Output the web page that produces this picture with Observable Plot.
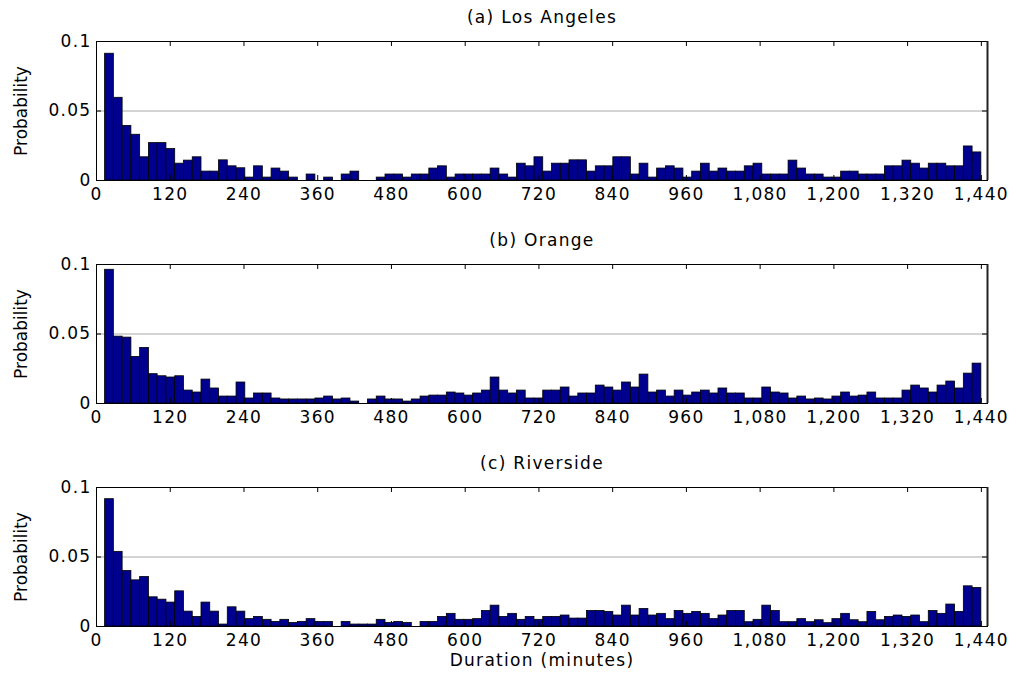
<!DOCTYPE html>
<html>
<head>
<meta charset="utf-8">
<script src="https://cdn.jsdelivr.net/npm/d3@7"></script>
<script src="https://cdn.jsdelivr.net/npm/@observablehq/plot@0.6"></script>
<style>
  body { margin: 0; background: #fff; }
  #chart svg { display: block; }
</style>
</head>
<body>
<div id="chart"></div>
<script>
// Parking-duration histograms for three counties (100 bins, 14–1440 minutes)
const titles = ["(a) Los Angeles", "(b) Orange", "(c) Riverside"];

const losAngeles = [
  0.0912, 0.0595, 0.0393, 0.0329, 0.0167, 0.0269, 0.0269, 0.0226, 0.0121, 0.0143,
  0.0167, 0.0064, 0.0064, 0.0145, 0.0102, 0.0088, 0.0021, 0.0102, 0.0021, 0.0086,
  0.0064, 0.0021, 0, 0.0043, 0, 0.0021, 0, 0.0043, 0.0064, 0,
  0, 0.0021, 0.0043, 0.0043, 0.0021, 0.0043, 0.0043, 0.0086, 0.0102, 0.0021,
  0.0043, 0.0043, 0.0043, 0.0043, 0.0086, 0.0043, 0.0021, 0.0121, 0.0102, 0.0167,
  0.0064, 0.0121, 0.0121, 0.0145, 0.0145, 0.0064, 0.0102, 0.0102, 0.0167, 0.0167,
  0.0043, 0.0121, 0.0021, 0.0086, 0.0102, 0.0086, 0.0021, 0.0064, 0.0121, 0.0064,
  0.0086, 0.0064, 0.0064, 0.0102, 0.0121, 0.0043, 0.0043, 0.0043, 0.0143, 0.0086,
  0.0043, 0.0043, 0.0021, 0.0021, 0.0064, 0.0064, 0.0043, 0.0043, 0.0043, 0.0102,
  0.0102, 0.0143, 0.0121, 0.0086, 0.0121, 0.0121, 0.0102, 0.0102, 0.0245, 0.0202
];

const orange = [
  0.0962, 0.0481, 0.0474, 0.0335, 0.0400, 0.0211, 0.0196, 0.0187, 0.0196, 0.0093,
  0.0079, 0.0172, 0.0108, 0.0050, 0.0050, 0.0151, 0.0036, 0.0072, 0.0072, 0.0036,
  0.0029, 0.0029, 0.0029, 0.0029, 0.0036, 0.0050, 0.0029, 0.0036, 0.0014, 0,
  0.0029, 0.0050, 0.0029, 0.0029, 0.0014, 0.0029, 0.0050, 0.0057, 0.0057, 0.0079,
  0.0072, 0.0057, 0.0072, 0.0093, 0.0187, 0.0093, 0.0072, 0.0093, 0.0036, 0.0036,
  0.0093, 0.0093, 0.0115, 0.0050, 0.0072, 0.0072, 0.0129, 0.0115, 0.0093, 0.0151,
  0.0115, 0.0208, 0.0079, 0.0093, 0.0050, 0.0093, 0.0057, 0.0079, 0.0093, 0.0072,
  0.0108, 0.0072, 0.0072, 0.0036, 0.0036, 0.0115, 0.0079, 0.0072, 0.0036, 0.0050,
  0.0029, 0.0036, 0.0029, 0.0050, 0.0079, 0.0050, 0.0057, 0.0079, 0.0036, 0.0036,
  0.0036, 0.0093, 0.0129, 0.0108, 0.0079, 0.0129, 0.0158, 0.0108, 0.0215, 0.0287
];

const riverside = [
  0.0916, 0.0537, 0.0399, 0.0332, 0.0356, 0.0210, 0.0193, 0.0172, 0.0253, 0.0107,
  0.0069, 0.0172, 0.0107, 0.0014, 0.0138, 0.0107, 0.0053, 0.0069, 0.0048, 0.0033,
  0.0048, 0.0026, 0.0033, 0.0053, 0.0033, 0.0033, 0, 0.0033, 0.0014, 0.0014,
  0.0014, 0.0048, 0.0026, 0.0033, 0.0026, 0, 0.0033, 0.0033, 0.0069, 0.0091,
  0.0048, 0.0048, 0.0053, 0.0112, 0.0150, 0.0069, 0.0091, 0.0048, 0.0069, 0.0048,
  0.0069, 0.0069, 0.0079, 0.0057, 0.0057, 0.0112, 0.0112, 0.0105, 0.0079, 0.0150,
  0.0079, 0.0126, 0.0079, 0.0091, 0.0053, 0.0112, 0.0091, 0.0105, 0.0091, 0.0053,
  0.0079, 0.0112, 0.0112, 0.0031, 0.0048, 0.0150, 0.0112, 0.0031, 0.0031, 0.0053,
  0.0031, 0.0045, 0.0024, 0.0053, 0.0091, 0.0045, 0.0031, 0.0105, 0.0045, 0.0069,
  0.0079, 0.0069, 0.0079, 0.0031, 0.0112, 0.0091, 0.0158, 0.0105, 0.0289, 0.0277
];

const xTicks = [0, 120, 240, 360, 480, 600, 720, 840, 960, 1080, 1200, 1320, 1440];
const yTicks = [0, 0.05, 0.1];
const yLabel = "Probability";
const xLabel = "Duration (minutes)";
const xDomain = [0, 1450];
const yDomain = [0, 0.1];

// histogram bin range in minutes
const binStart = 14;
const binEnd = 1440;

const W = 1017;
const M = {top: 41, left: 96, right: 30};
const font = "DejaVu Sans, Verdana, sans-serif";

function panel(title, values, height, marginBottom, bottomLabel) {
  const step = (binEnd - binStart) / values.length;
  const bins = values.map((p, i) => ({x1: binStart + i * step, x2: binStart + (i + 1) * step, p}));
  const frameH = height - M.top - marginBottom;
  const frameW = W - M.left - M.right;
  return Plot.plot({
    width: W,
    height,
    marginTop: M.top,
    marginBottom,
    marginLeft: M.left,
    marginRight: M.right,
    x: {domain: xDomain},
    y: {domain: yDomain},
    style: {fontFamily: font, fontSize: "17px", letterSpacing: "1.3px", color: "black", background: "white"},
    marks: [
      Plot.ruleY([0.05], {stroke: "#a8a8a8", strokeWidth: 1}),
      Plot.rectY(bins, {x1: "x1", x2: "x2", y: "p", fill: "#00008f", stroke: "black", strokeWidth: 0.8}),
      // inward tick marks on all four sides
      Plot.tickX(xTicks, {x: d => d, insetBottom: frameH - 5, stroke: "black"}),
      Plot.tickX(xTicks, {x: d => d, insetTop: frameH - 5, stroke: "black"}),
      Plot.tickY(yTicks, {y: d => d, insetLeft: frameW - 5, stroke: "black"}),
      Plot.tickY(yTicks, {y: d => d, insetRight: frameW - 5, stroke: "black"}),
      Plot.frame({stroke: "black"}),
      // heavier right-hand axis line
      Plot.ruleX([xDomain[1]], {stroke: "#222", strokeWidth: 2}),
      Plot.axisX(xTicks, {anchor: "bottom", tickSize: 0, tickPadding: 7, tickFormat: d3.format(","), fontSize: 17, label: null}),
      Plot.axisY(yTicks, {anchor: "left", tickSize: 0, tickPadding: 5, tickFormat: d => d === 0 ? "0" : String(d), fontSize: 17, label: null}),
      Plot.text([title], {frameAnchor: "top", dy: -24, lineAnchor: "middle", textAnchor: "middle", text: d => d, fontSize: 17, style: "letter-spacing:2px"}),
      Plot.text([yLabel], {frameAnchor: "left", dx: -75, rotate: -90, lineAnchor: "middle", textAnchor: "middle", text: d => d, fontSize: 17}),
      bottomLabel ? Plot.text([bottomLabel], {frameAnchor: "bottom", dy: 34, lineAnchor: "middle", textAnchor: "middle", text: d => d, fontSize: 17}) : null
    ]
  });
}

const chart = document.getElementById("chart");
chart.append(panel(titles[0], losAngeles, 223, 43, null));
chart.append(panel(titles[1], orange, 223, 43, null));
chart.append(panel(titles[2], riverside, 231, 51, xLabel));

// the axis label reads tighter than the tick labels
chart.querySelectorAll("text").forEach(t => {
  if (t.textContent === yLabel) t.style.letterSpacing = "0px";
});
</script>
</body>
</html>
